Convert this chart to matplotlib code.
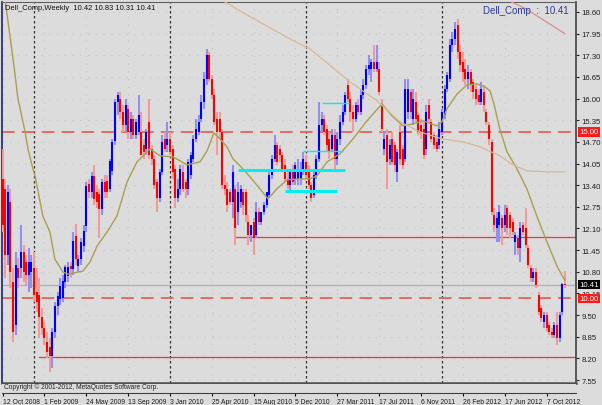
import matplotlib
matplotlib.use("Agg")
import matplotlib.pyplot as plt
import matplotlib.transforms as mtransforms

FONT = ["Liberation Sans Narrow", "Liberation Sans", "DejaVu Sans"]
plt.rcParams["font.family"] = FONT

# ---------------- data (weekly OHLC, Dell_Comp) ----------------
opens = [13.6, 13.3, 11.3, 12.9, 10.5, 9.2, 10.9, 10.9, 11.4, 11.1, 10.7, 10.8, 10.9, 10.2, 10.1, 9.45,
         9.1, 8.7, 8.55, 8.27, 9.0, 9.77, 9.98, 10.0, 10.49, 10.67, 10.97, 10.88, 11.87, 10.97, 11.18, 11.57,
         12.17, 13.44, 13.2, 13.68, 13.2, 13.14, 12.68, 13.5, 13.53, 13.3, 13.83, 14.73, 15.9, 16.0, 15.6, 15.2,
         15.7, 15.0, 15.4, 14.9, 15.0, 15.0, 14.6, 14.5, 15.3, 14.5, 14.2, 13.5, 13.0, 13.8, 14.8, 14.6,
         14.8, 14.5, 13.9, 13.0, 13.3, 13.8, 13.5, 13.3, 13.7, 14.2, 14.8, 15.0, 15.4, 15.9, 16.6, 17.3,
         16.6, 16.1, 15.4, 15.4, 15.0, 13.4, 13.3, 13.2, 12.9, 13.3, 12.6, 12.9, 13.2, 13.2, 12.3, 11.9,
         12.3, 11.9, 12.6, 12.3, 12.6, 12.8, 13.1, 13.7, 14.2, 14.6, 14.5, 14.3, 14.0, 13.6, 13.4, 13.8,
         13.6, 13.6, 13.6, 13.8, 14.1, 13.8, 13.4, 13.1, 13.7, 14.2, 15.2, 15.4, 15.1, 14.8, 14.5, 14.9,
         14.2, 14.8, 15.3, 15.6, 16.4, 16.0, 15.6, 15.4, 15.8, 15.6, 16.1, 16.4, 16.9, 16.9, 17.1, 16.9,
         16.9, 15.8, 14.5, 14.9, 14.2, 14.8, 14.6, 13.8, 15.0, 14.5, 14.2, 15.6, 16.2, 15.4, 15.9, 15.5,
         15.2, 15.1, 14.5, 15.8, 15.3, 14.9, 14.7, 14.6, 15.0, 15.5, 16.3, 16.6, 17.6, 17.8, 18.2, 17.4,
         17.1, 16.9, 16.6, 16.8, 16.5, 16.3, 16.1, 15.9, 16.2, 15.6, 15.2, 14.7, 12.5, 12.1, 12.2, 12.4,
         12.2, 12.7, 12.5, 12.3, 11.7, 11.8, 11.5, 12.2, 12.1, 11.5, 10.9, 10.6, 10.8, 10.1, 9.7, 9.3,
         9.5, 9.2, 9.0, 8.9, 9.2, 8.8, 9.6, 10.42]
highs = [14.5, 13.6, 13.4, 13.3, 10.9, 11.4, 11.2, 12.2, 11.6, 11.3, 11.5, 11.3, 11.4, 10.9, 10.6, 9.7,
         9.3, 9.0, 8.8, 9.1, 9.9, 10.2, 10.6, 10.7, 11.0, 11.1, 11.1, 12.0, 12.24, 11.3, 11.8, 12.2,
         13.5, 13.6, 13.8, 14.0, 13.4, 13.3, 13.6, 13.7, 13.7, 14.2, 14.8, 16.0, 16.2, 16.2, 15.8, 16.0,
         15.8, 15.6, 15.5, 15.4, 16.1, 15.6, 14.8, 15.1, 16.0, 14.6, 14.3, 13.6, 13.9, 14.9, 15.0, 15.3,
         15.0, 14.6, 14.0, 13.6, 14.0, 14.0, 13.6, 14.2, 14.4, 14.9, 15.4, 15.5, 16.1, 16.8, 17.5, 17.4,
         16.7, 16.3, 15.6, 15.6, 15.1, 13.7, 13.5, 13.3, 14.0, 13.4, 13.5, 13.4, 13.3, 13.3, 12.5, 12.2,
         12.4, 12.9, 12.7, 12.6, 12.9, 13.2, 13.8, 14.3, 14.9, 14.7, 14.6, 14.4, 14.2, 13.8, 13.9, 14.0,
         14.1, 14.2, 14.1, 14.4, 14.3, 14.0, 13.5, 13.9, 14.3, 15.9, 15.6, 15.5, 15.2, 15.0, 15.1, 15.1,
         15.0, 15.5, 15.8, 16.2, 16.6, 16.2, 15.8, 15.9, 16.0, 16.3, 16.6, 17.0, 17.3, 17.2, 17.6, 17.6,
         17.1, 16.0, 15.0, 15.1, 14.8, 15.0, 14.7, 14.5, 15.2, 14.6, 16.6, 16.6, 16.3, 16.3, 16.2, 15.6,
         15.4, 15.3, 15.8, 16.0, 15.4, 15.0, 14.9, 15.3, 15.7, 16.4, 16.8, 17.8, 18.0, 18.3, 18.4, 17.6,
         17.4, 17.2, 17.0, 16.9, 16.6, 16.4, 16.3, 16.5, 16.4, 15.7, 15.3, 14.8, 12.7, 12.6, 12.8, 12.5,
         12.8, 12.8, 12.6, 12.4, 12.0, 11.9, 12.3, 12.3, 12.7, 11.6, 11.0, 10.9, 10.9, 10.2, 9.8, 9.6,
         9.6, 9.3, 9.1, 9.3, 9.6, 9.6, 10.45, 10.83]
lows = [12.0, 10.6, 11.0, 10.3, 8.7, 8.9, 10.3, 10.6, 10.5, 10.4, 10.2, 10.3, 9.9, 9.6, 8.8, 8.9,
        8.6, 8.2, 7.8, 7.9, 8.8, 9.5, 9.8, 9.9, 10.3, 10.5, 10.6, 10.7, 11.0, 10.8, 11.0, 11.4,
        12.0, 13.0, 13.0, 12.8, 12.7, 11.8, 12.5, 13.0, 13.0, 13.2, 13.7, 14.6, 15.5, 15.4, 15.0, 15.0,
        14.8, 14.8, 14.8, 14.8, 14.9, 14.3, 14.2, 14.3, 14.2, 14.0, 13.3, 12.6, 12.9, 13.7, 14.4, 14.4,
        14.3, 13.6, 12.7, 12.9, 13.1, 13.2, 13.0, 13.1, 13.6, 14.1, 14.7, 14.9, 15.3, 15.7, 16.4, 16.5,
        16.0, 15.2, 14.3, 14.8, 13.3, 13.1, 12.6, 12.8, 12.4, 11.6, 12.2, 12.7, 12.5, 12.3, 11.6, 11.7,
        11.3, 11.8, 12.2, 12.2, 12.5, 12.7, 13.0, 13.6, 14.1, 14.0, 14.1, 13.8, 13.5, 13.3, 13.2, 13.4,
        13.4, 13.4, 13.4, 13.7, 13.6, 13.3, 12.9, 13.0, 13.6, 14.1, 15.0, 14.9, 14.4, 14.2, 14.4, 13.9,
        14.0, 14.6, 15.2, 15.5, 15.9, 15.3, 15.0, 15.3, 15.5, 15.5, 16.0, 16.3, 16.7, 16.5, 16.8, 16.8,
        16.1, 15.0, 14.3, 13.3, 14.0, 14.0, 13.8, 13.5, 14.0, 13.9, 14.1, 15.4, 15.4, 15.2, 15.3, 14.9,
        14.8, 14.2, 14.3, 15.3, 14.7, 14.5, 14.4, 14.5, 14.9, 15.4, 16.2, 16.5, 17.4, 17.6, 17.2, 16.8,
        16.5, 16.4, 16.3, 16.2, 16.0, 15.8, 15.8, 15.8, 15.6, 15.2, 14.6, 12.5, 12.0, 11.7, 11.7, 11.6,
        12.0, 11.9, 11.8, 11.9, 11.3, 11.3, 11.1, 11.9, 11.5, 10.9, 10.5, 10.5, 10.3, 9.5, 9.3, 9.1,
        9.0, 8.9, 8.8, 8.8, 8.6, 8.7, 9.5, 10.31]
closes = [12.2, 11.3, 13.2, 10.8, 9.0, 11.0, 10.6, 11.4, 10.8, 10.7, 11.1, 11.1, 10.1, 9.9, 9.45, 9.1,
          8.8, 8.4, 8.27, 9.0, 9.77, 10.07, 10.37, 10.52, 10.94, 10.94, 10.88, 11.72, 11.18, 11.18, 11.69, 12.02,
          13.38, 13.2, 13.68, 12.98, 12.9, 12.68, 13.5, 13.2, 13.2, 14.13, 14.7, 15.9, 16.1, 15.6, 15.2, 15.8,
          15.0, 15.4, 14.9, 15.3, 15.5, 14.3, 14.4, 15.0, 14.3, 14.2, 13.4, 13.0, 13.8, 14.7, 14.5, 14.8,
          14.4, 13.8, 13.0, 13.3, 13.9, 13.3, 13.3, 14.1, 14.3, 14.8, 15.1, 15.3, 15.9, 16.6, 17.3, 16.6,
          16.1, 15.3, 15.0, 15.0, 13.4, 13.3, 12.8, 12.9, 13.8, 12.1, 13.2, 13.3, 12.8, 12.5, 11.9, 12.2,
          11.8, 12.6, 12.3, 12.6, 12.8, 13.2, 13.7, 14.2, 14.6, 14.1, 14.3, 13.9, 13.6, 13.4, 13.8, 13.5,
          14.0, 13.9, 13.9, 14.2, 13.7, 13.4, 13.0, 13.7, 14.2, 15.2, 15.4, 15.0, 14.6, 14.4, 14.9, 14.2,
          14.8, 15.3, 15.6, 16.1, 16.0, 15.6, 15.4, 15.8, 15.6, 16.1, 16.4, 16.9, 17.0, 17.1, 16.9, 17.1,
          16.2, 15.1, 14.8, 14.1, 14.6, 14.1, 14.0, 14.4, 14.2, 14.0, 16.3, 16.3, 15.6, 16.0, 15.4, 15.0,
          15.0, 14.3, 15.6, 15.4, 14.8, 14.6, 14.5, 15.1, 15.6, 16.3, 16.7, 17.6, 17.8, 18.1, 17.4, 17.0,
          16.8, 16.6, 16.8, 16.4, 16.2, 16.0, 15.9, 16.3, 15.8, 15.3, 14.8, 12.6, 12.2, 12.4, 12.6, 12.1,
          12.5, 12.1, 12.1, 12.0, 11.9, 11.5, 12.1, 12.0, 11.6, 11.0, 10.6, 10.8, 10.4, 9.6, 9.4, 9.5,
          9.1, 9.0, 8.9, 9.2, 8.8, 9.5, 10.42, 10.41]

# moving averages (week index, price)
ma_fast_idx = [0.9, 4.0, 5.9, 8.6, 9.7, 11.6, 12.4, 15.4, 18.1, 20.0, 23.1, 25.0, 30.7, 33.4, 36.1, 39.9,
               43.7, 47.6, 51.4, 56.4, 60.2, 65.2, 70.5, 75.5, 78.2, 80.8, 83.1, 85.8, 88.1, 90.8, 94.6,
               98.4, 101.5, 104.9, 108.8, 113.7, 117.6, 120.2, 124.1, 129.0, 134.0, 139.3, 145.1, 148.9,
               153.1, 156.9, 160.8, 166.1, 168.0, 169.9, 173.8, 177.6, 181.4, 184.5, 186.4, 187.9, 190.2,
               192.9, 196.7, 200.5, 204.3, 208.2, 212.0, 214.3, 215.0]
ma_fast_val = [18.99, 17.19, 15.99, 15.00, 14.49, 13.89, 13.68, 12.47, 11.99, 11.18, 10.79, 10.73, 10.82,
               11.09, 11.57, 11.99, 12.47, 13.50, 14.10, 14.49, 14.28, 14.25, 14.01, 14.10, 14.43, 14.97,
               14.79, 14.55, 14.19, 13.98, 13.65, 13.29, 12.99, 13.29, 13.56, 13.59, 13.59, 13.68, 14.10,
               14.34, 14.79, 15.33, 15.84, 15.48, 15.18, 15.24, 15.33, 15.18, 15.30, 15.69, 16.14, 16.41,
               16.44, 16.35, 16.23, 15.84, 15.06, 14.40, 13.89, 13.29, 12.47, 11.69, 10.97, 10.64, 10.55]
ma_slow_idx = [85.1, 90.8, 103.0, 109.9, 117.6, 132.9, 143.2, 152.0, 159.6, 168.0, 176.1, 182.6, 190.2,
               195.2, 200.5, 208.2, 215.0]
ma_slow_val = [18.90, 18.63, 18.09, 17.79, 17.49, 16.50, 15.93, 15.30, 15.00, 14.79, 14.70, 14.55, 14.28,
               14.01, 13.83, 13.80, 13.80]
ma_long_idx = [192.0, 200.0, 208.0, 215.0]
ma_long_val = [19.00, 18.70, 18.30, 17.95]

price_ticks = [7.55, 8.20, 8.85, 9.50, 10.15, 10.80, 11.45, 12.10, 12.75, 13.40, 14.05, 14.70,
               15.35, 16.00, 16.65, 17.30, 17.95, 18.60]
date_labels = ["12 Oct 2008", "1 Feb 2009", "24 May 2009", "13 Sep 2009", "3 Jan 2010", "25 Apr 2010",
               "15 Aug 2010", "5 Dec 2010", "27 Mar 2011", "17 Jul 2011", "6 Nov 2011", "26 Feb 2012",
               "17 Jun 2012", "7 Oct 2012"]
date_idx = [0, 16, 32, 48, 64, 80, 96, 112, 128, 144, 160, 176, 192, 208]
year_sep_idx = [12, 64, 116, 168]

dashed_levels = [15.00, 10.00]
support_levels = [11.85, 8.25]
support_start = [88.9, 13.9]
cyan_levels = [13.86, 13.23, 14.43, 15.87]
cyan_start = [90.0, 108.0, 114.9, 122.1]
cyan_end = [130.9, 127.9, 130.2, 132.5]
cyan_width = [2.2, 2.2, 1.0, 1.0]
last_price = 10.41
title_ohlc = "Dell_Comp,Weekly  10.42 10.83 10.31 10.41"

# ---------------- figure ----------------
BG = "#dcdcdc"
W, H = 602, 406
fig = plt.figure(figsize=(W / 100, H / 100), dpi=100, facecolor=BG)
ax = fig.add_axes([2 / W, 1 - 384 / H, 574 / W, 381 / H], facecolor=BG)

x_left = (2 - 2.6) / 2.615
x_right = (576 - 2.6) / 2.615
ax.set_xlim(x_left, x_right)
ax.set_ylim(7.46, 18.90)

# grid (MT4 dotted)
for v in price_ticks:
    ax.axhline(v, color="#bdbdbd", lw=0.7, ls=(0, (1, 7)), zorder=0)
for i in date_idx:
    ax.axvline(i, color="#bdbdbd", lw=0.7, ls=(0, (1, 7)), zorder=0)

# year separators
for i in year_sep_idx:
    ax.axvline(i, color="#303030", lw=0.9, ls=(0, (2, 2)), zorder=1)

# horizontal levels
for v in dashed_levels:
    ax.axhline(v, color="#e06658", lw=1.3, ls=(0, (7, 4)), zorder=2)
for v, s in zip(support_levels, support_start):
    ax.plot([s, x_right], [v, v], color="#ff3030", lw=0.9, zorder=2)
ax.axhline(last_price, color="#a8b0c4", lw=0.9, zorder=2)

# candles
idx = list(range(len(closes)))
for i, o, h, l, c in zip(idx, opens, highs, lows, closes):
    up = c >= o
    light = "#9090f4" if up else "#f39a9a"
    dark = "#0000ff" if up else "#ff0000"
    ax.vlines(i, l, h, color=light, lw=1.5, zorder=3)
    ax.vlines(i, min(o, c), max(o, c), color=dark, lw=1.5, zorder=4)

# moving averages
ax.plot(ma_fast_idx, ma_fast_val, color="#a8a050", lw=1.0, zorder=5)
ax.plot(ma_slow_idx, ma_slow_val, color="#d9b894", lw=0.9, zorder=5)
ax.plot(ma_long_idx, ma_long_val, color="#dd8c8c", lw=0.9, zorder=5)

# cyan levels
for v, s, e, w in zip(cyan_levels, cyan_start, cyan_end, cyan_width):
    ax.plot([s, e], [v, v], color="#00f0f0", lw=w, zorder=6, solid_capstyle="butt")

# axes styling
ax.set_xticks(date_idx)
ax.tick_params(axis="x", length=0, labelbottom=False)
ax.yaxis.tick_right()
ax.set_yticks(price_ticks)
ax.set_yticklabels([f"{v:.2f}" for v in price_ticks])
ax.tick_params(axis="y", length=2.5, width=0.8, pad=1.5, labelsize=5.6, colors="#202020")
ax.spines["top"].set_color("#606060")
ax.spines["top"].set_linewidth(0.8)
ax.spines["right"].set_color("#404040")
ax.spines["right"].set_linewidth(1.2)
ax.spines["left"].set_color("#1a237e")
ax.spines["left"].set_linewidth(1.2)
ax.spines["bottom"].set_color("#505050")
ax.spines["bottom"].set_linewidth(1.8)

# price boxes on the scale
trans = mtransforms.blended_transform_factory(ax.transAxes, ax.transData)
for v, fc in [(15.00, "#ff1a1a"), (10.00, "#ff1a1a"), (last_price, "#000000")]:
    ax.text(1.006, v, f"{v:.2f}", transform=trans, fontsize=5.6, color="white", va="center", ha="left",
            bbox=dict(boxstyle="square,pad=0.15", fc=fc, ec="none"), zorder=10, clip_on=False)

# title texts
fig.text(5 / W, 1 - 8 / H, title_ohlc, fontsize=5.4, color="#101010", va="center", ha="left")
fig.text(569 / W, 1 - 11 / H, "Dell_Comp  :  10.41", fontsize=7, color="#2a3aa0", va="center", ha="right")

# bottom sub-window
sub = fig.add_axes([2 / W, 1 - 394 / H, 574 / W, 9 / H], facecolor=BG)
sub.set_xlim(x_left, x_right)
sub.set_ylim(0, 1)
sub.set_yticks([])
for s in ["top", "left", "right"]:
    sub.spines[s].set_visible(False)
sub.spines["bottom"].set_color("#404040")
sub.spines["bottom"].set_linewidth(0.8)
sub.text(0.004, 0.72, "Copyright \u00a9 2001-2012, MetaQuotes Software Corp.", transform=sub.transAxes,
         fontsize=4.8, color="#202020", va="center", ha="left")
sub.set_xticks(date_idx)
sub.set_xticklabels(date_labels, ha="left", fontsize=4.9, color="#202020")
sub.tick_params(axis="x", length=2, width=0.8, pad=1.5)

fig.savefig("out.png", dpi=100, facecolor=BG)
